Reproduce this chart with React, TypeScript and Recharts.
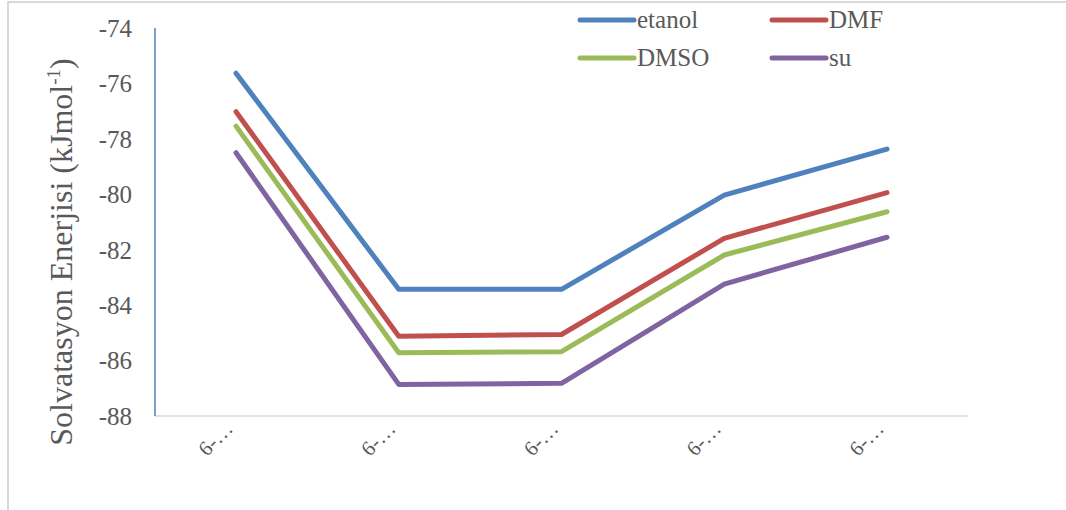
import React from 'react';
import { LineChart, Line, XAxis, YAxis } from 'recharts';

// Category labels (truncated on the axis)
const categories = ['6-…', '6-…', '6-…', '6-…', '6-…'];

// Solvation energies (kJ/mol) per solvent
const etanol = [-75.63, -83.43, -83.43, -80.03, -78.37];
const dmf = [-77.02, -85.12, -85.06, -81.59, -79.94];
const dmso = [-77.54, -85.72, -85.68, -82.19, -80.63];
const su = [-78.5, -86.86, -86.82, -83.24, -81.55];

const yTicks = [-74, -76, -78, -80, -82, -84, -86, -88];

const series = [
  { key: 'etanol', name: 'etanol', color: '#4F81BD', values: etanol },
  { key: 'dmf', name: 'DMF', color: '#C0504D', values: dmf },
  { key: 'dmso', name: 'DMSO', color: '#9BBB59', values: dmso },
  { key: 'su', name: 'su', color: '#8064A2', values: su },
];

const data = categories.map((c, i) => {
  const row: Record<string, string | number> = { idx: i, cat: c };
  series.forEach((s) => {
    row[s.key] = s.values[i];
  });
  return row;
});

const FONT = 'Liberation Serif, Times New Roman, serif';
const TEXT = '#595959';

const CategoryTick = (props: any) => {
  const { x, y, payload } = props;
  return (
    <g transform={`translate(${x - 2},${y + 6})`}>
      <text
        transform="rotate(-45)"
        textAnchor="end"
        fontSize={21}
        fontFamily={FONT}
        fill={TEXT}
      >
        {categories[payload.value]}
      </text>
    </g>
  );
};

const YTitle = () => (
  <text
    transform="translate(72,252) rotate(-90)"
    textAnchor="middle"
    fontSize={32}
    fontFamily={FONT}
    fill={TEXT}
  >
    Solvatasyon Enerjisi (kJmol
    <tspan fontSize={19} dy={-12}>-1</tspan>
    <tspan dy={12}>)</tspan>
  </text>
);

const legendRows = [
  [series[0], series[1]],
  [series[2], series[3]],
];

export default function App() {
  return (
    <div
      style={{
        position: 'absolute',
        left: 0,
        top: 0,
        width: 1066,
        height: 510,
        overflow: 'hidden',
        background: '#fff',
        fontFamily: FONT,
      }}
    >
      <div
        style={{
          position: 'absolute',
          left: 7,
          top: 1,
          width: 1080,
          height: 520,
          borderTop: '2px solid #d9d9d9',
          borderLeft: '2px solid #d9d9d9',
        }}
      />
      <div style={{ position: 'absolute', left: 0, top: 0 }}>
        <LineChart
          width={1066}
          height={510}
          data={data}
          margin={{ top: 28, right: 98, bottom: 34, left: 0 }}
        >
          <XAxis
            dataKey="idx"
            type="category"
            height={60}
            padding={{ left: 81, right: 81 }}
            axisLine={{ stroke: '#d9d9d9', strokeWidth: 1.5 }}
            tickLine={false}
            tick={<CategoryTick />}
            interval={0}
          />
          <YAxis
            width={155}
            domain={[-88, -74]}
            ticks={yTicks}
            interval={0}
            allowDataOverflow
            axisLine={{ stroke: '#4F81BD', strokeWidth: 1.5 }}
            tickLine={false}
            tickSize={6}
            tickMargin={17}
            tick={{ fontSize: 25, fontFamily: FONT, fill: TEXT }}
            label={<YTitle />}
          />
          {series.map((s) => (
            <Line
              key={s.key}
              dataKey={s.key}
              name={s.name}
              stroke={s.color}
              strokeWidth={5}
              strokeLinecap="round"
              strokeLinejoin="round"
              dot={false}
              activeDot={false}
              isAnimationActive={false}
            />
          ))}
        </LineChart>
      </div>
      {legendRows.map((row, r) =>
        row.map((s, c) => (
          <div
            key={s.key}
            style={{
              position: 'absolute',
              left: c === 0 ? 575 : 767,
              top: r === 0 ? 4 : 42,
              height: 32,
              display: 'flex',
              alignItems: 'center',
              fontFamily: FONT,
              fontSize: 25,
              color: TEXT,
              whiteSpace: 'nowrap',
            }}
          >
            <svg width={62} height={10} style={{ display: 'block' }}>
              <line x1={5} y1={5} x2={59} y2={5} stroke={s.color} strokeWidth={5} strokeLinecap="round" />
            </svg>
            <span>{s.name}</span>
          </div>
        ))
      )}
    </div>
  );
}
